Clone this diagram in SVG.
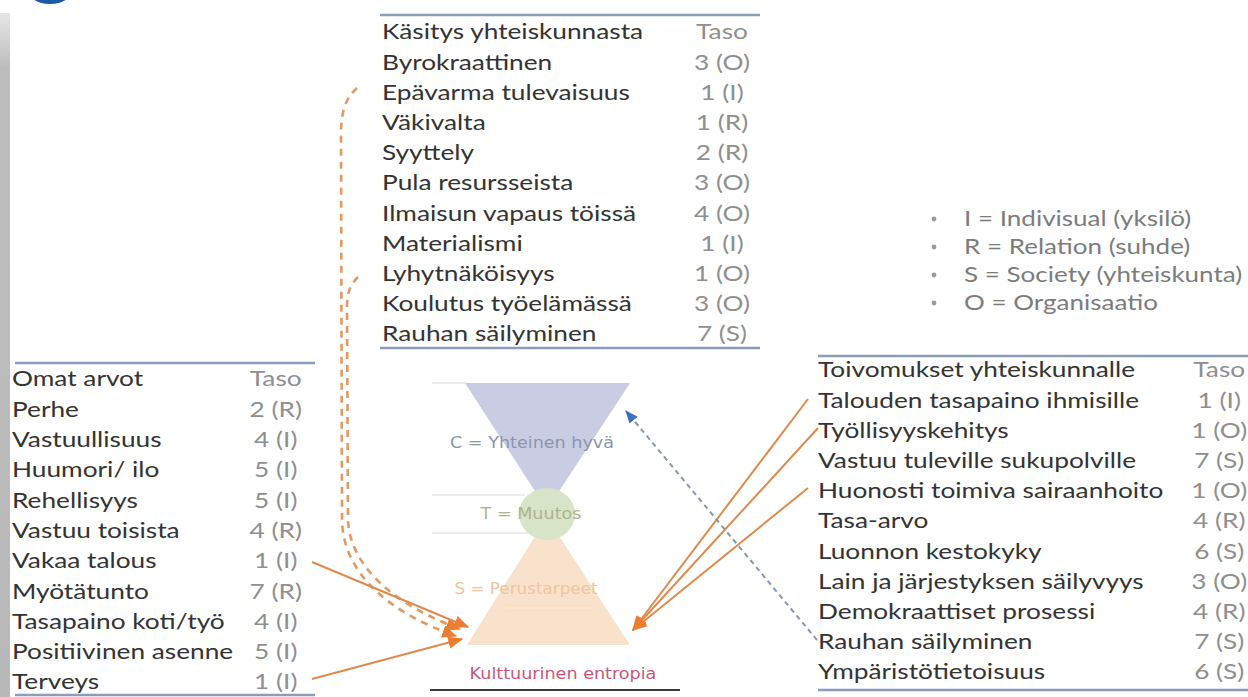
<svg xmlns="http://www.w3.org/2000/svg" width="1248" height="697" viewBox="0 0 1248 697">
  <defs>
    <style>
      .lbl { font-family: Lato, "Open Sans", sans-serif; font-size: 21px; fill: #333333; }
      .val { font-family: Lato, "Open Sans", sans-serif; font-size: 21px; fill: #8f8f8f; text-anchor: middle; }
      .leg { font-family: Lato, "Open Sans", sans-serif; font-size: 21px; fill: #7c7c7c; }
      .rule { stroke: #8a9dbb; stroke-width: 2.5; fill: none; }
      .guide { stroke: #dcdcdc; stroke-width: 1.2; }
      .hg { font-family: "DejaVu Sans", Verdana, sans-serif; font-size: 16px; text-anchor: middle; }
      .solid { stroke: #df8a4c; stroke-width: 2; fill: none; }
      .dash { stroke: #e39a62; stroke-width: 2.6; fill: none; stroke-dasharray: 7 6; }
      .blue { stroke: #8797b3; stroke-width: 2; fill: none; stroke-dasharray: 5 4; }
    </style>
    <linearGradient id="barFade" x1="0" y1="0" x2="0" y2="1">
      <stop offset="0" stop-color="#e6e6e6"/>
      <stop offset="0.08" stop-color="#bdbdbd"/>
      <stop offset="1" stop-color="#b9b9b9"/>
    </linearGradient>
    <marker id="headOrange" viewBox="0 0 12 10" refX="11" refY="5" markerWidth="15" markerHeight="13" markerUnits="userSpaceOnUse" orient="auto">
      <path d="M0,0 L12,5 L0,10 Z" fill="#ed7d31"/>
    </marker>
    <marker id="headBlue" viewBox="0 0 12 10" refX="11" refY="5" markerWidth="13" markerHeight="11" markerUnits="userSpaceOnUse" orient="auto">
      <path d="M0,0 L12,5 L0,10 Z" fill="#3f6fc0"/>
    </marker>
  </defs>

  <rect width="1248" height="697" fill="#ffffff"/>

  <!-- slide frame: side bar and logo corner -->
  <rect x="0" y="13" width="10" height="684" fill="url(#barFade)"/>
  <ellipse cx="50" cy="-14" rx="25" ry="18" fill="#1d5aa6"/>

  <!-- Käsitys yhteiskunnasta -->
  <g id="kasitys">
    <line class="rule" x1="380" y1="15" x2="760" y2="15"/>
    <line class="rule" x1="380" y1="348" x2="760" y2="348"/>
    <g transform="translate(382 0) scale(1.25 1)">
      <text class="lbl" x="0" y="39.5">Käsitys yhteiskunnasta</text>
      <text class="val" x="272" y="39.5">Taso</text>
      <text class="lbl" x="0" y="69.7">Byrokraattinen</text>
      <text class="val" x="272" y="69.7">3 (O)</text>
      <text class="lbl" x="0" y="99.9">Epävarma tulevaisuus</text>
      <text class="val" x="272" y="99.9">1 (I)</text>
      <text class="lbl" x="0" y="130.1">Väkivalta</text>
      <text class="val" x="272" y="130.1">1 (R)</text>
      <text class="lbl" x="0" y="160.3">Syyttely</text>
      <text class="val" x="272" y="160.3">2 (R)</text>
      <text class="lbl" x="0" y="190.5">Pula resursseista</text>
      <text class="val" x="272" y="190.5">3 (O)</text>
      <text class="lbl" x="0" y="220.7">Ilmaisun vapaus töissä</text>
      <text class="val" x="272" y="220.7">4 (O)</text>
      <text class="lbl" x="0" y="250.9">Materialismi</text>
      <text class="val" x="272" y="250.9">1 (I)</text>
      <text class="lbl" x="0" y="281.1">Lyhytnäköisyys</text>
      <text class="val" x="272" y="281.1">1 (O)</text>
      <text class="lbl" x="0" y="311.3">Koulutus työelämässä</text>
      <text class="val" x="272" y="311.3">3 (O)</text>
      <text class="lbl" x="0" y="341.5">Rauhan säilyminen</text>
      <text class="val" x="272" y="341.5">7 (S)</text>
    </g>
  </g>

  <!-- legend of levels -->
  <g id="legend">
    <circle cx="934" cy="219" r="2.4" fill="#9a9a9a"/>
    <circle cx="934" cy="247" r="2.4" fill="#9a9a9a"/>
    <circle cx="934" cy="275" r="2.4" fill="#9a9a9a"/>
    <circle cx="934" cy="303" r="2.4" fill="#9a9a9a"/>
    <g transform="translate(964 0) scale(1.24 1)">
      <text class="leg" x="0" y="226.5">I = Indivisual (yksilö)</text>
      <text class="leg" x="0" y="254.5">R = Relation (suhde)</text>
      <text class="leg" x="0" y="282.5">S = Society (yhteiskunta)</text>
      <text class="leg" x="0" y="310.5">O = Organisaatio</text>
    </g>
  </g>

  <!-- Omat arvot -->
  <g id="omat-arvot">
    <line class="rule" x1="15" y1="363" x2="315" y2="363"/>
    <line class="rule" x1="15" y1="695" x2="315" y2="695"/>
    <g transform="translate(12 0) scale(1.25 1)">
      <text class="lbl" x="0" y="386.5">Omat arvot</text>
      <text class="val" x="211" y="386.5">Taso</text>
      <text class="lbl" x="0" y="416.8">Perhe</text>
      <text class="val" x="211" y="416.8">2 (R)</text>
      <text class="lbl" x="0" y="447.1">Vastuullisuus</text>
      <text class="val" x="211" y="447.1">4 (I)</text>
      <text class="lbl" x="0" y="477.4">Huumori/ ilo</text>
      <text class="val" x="211" y="477.4">5 (I)</text>
      <text class="lbl" x="0" y="507.7">Rehellisyys</text>
      <text class="val" x="211" y="507.7">5 (I)</text>
      <text class="lbl" x="0" y="538">Vastuu toisista</text>
      <text class="val" x="211" y="538">4 (R)</text>
      <text class="lbl" x="0" y="568.3">Vakaa talous</text>
      <text class="val" x="211" y="568.3">1 (I)</text>
      <text class="lbl" x="0" y="598.6">Myötätunto</text>
      <text class="val" x="211" y="598.6">7 (R)</text>
      <text class="lbl" x="0" y="628.9">Tasapaino koti/työ</text>
      <text class="val" x="211" y="628.9">4 (I)</text>
      <text class="lbl" x="0" y="659.2">Positiivinen asenne</text>
      <text class="val" x="211" y="659.2">5 (I)</text>
      <text class="lbl" x="0" y="689.5">Terveys</text>
      <text class="val" x="211" y="689.5">1 (I)</text>
    </g>
  </g>

  <!-- Toivomukset yhteiskunnalle -->
  <g id="toivomukset">
    <line class="rule" x1="818" y1="356" x2="1248" y2="356"/>
    <line class="rule" x1="818" y1="690" x2="1248" y2="690"/>
    <g transform="translate(818 0) scale(1.25 1)">
      <text class="lbl" x="0" y="377.5">Toivomukset yhteiskunnalle</text>
      <text class="val" x="321" y="377.5">Taso</text>
      <text class="lbl" x="0" y="407.7">Talouden tasapaino ihmisille</text>
      <text class="val" x="321" y="407.7">1 (I)</text>
      <text class="lbl" x="0" y="437.9">Työllisyyskehitys</text>
      <text class="val" x="321" y="437.9">1 (O)</text>
      <text class="lbl" x="0" y="468.1">Vastuu tuleville sukupolville</text>
      <text class="val" x="321" y="468.1">7 (S)</text>
      <text class="lbl" x="0" y="498.3">Huonosti toimiva sairaanhoito</text>
      <text class="val" x="321" y="498.3">1 (O)</text>
      <text class="lbl" x="0" y="528.5">Tasa-arvo</text>
      <text class="val" x="321" y="528.5">4 (R)</text>
      <text class="lbl" x="0" y="558.7">Luonnon kestokyky</text>
      <text class="val" x="321" y="558.7">6 (S)</text>
      <text class="lbl" x="0" y="588.9">Lain ja järjestyksen säilyvyys</text>
      <text class="val" x="321" y="588.9">3 (O)</text>
      <text class="lbl" x="0" y="619.1">Demokraattiset prosessi</text>
      <text class="val" x="321" y="619.1">4 (R)</text>
      <text class="lbl" x="0" y="649.3">Rauhan säilyminen</text>
      <text class="val" x="321" y="649.3">7 (S)</text>
      <text class="lbl" x="0" y="679.5">Ympäristötietoisuus</text>
      <text class="val" x="321" y="679.5">6 (S)</text>
    </g>
  </g>

  <!-- hourglass of cultural entropy -->
  <g id="hourglass">
    <line class="guide" x1="432" y1="383" x2="466" y2="383"/>
    <line class="guide" x1="432" y1="495" x2="525" y2="495"/>
    <line class="guide" x1="432" y1="533" x2="528" y2="533"/>
    <polygon points="465,383 630,383 550,505 544,505" fill="#c9cce3"/>
    <polygon points="544,522 550,522 630,645 467,645" fill="#f9e2cb"/>
    <line x1="505" y1="608" x2="595" y2="608" stroke="#fbecdc" stroke-width="1.2"/>
    <ellipse cx="547" cy="514" rx="28" ry="26" fill="#d7e4c8"/>
    <g transform="translate(532 448) scale(1.1 1)">
      <text class="hg" x="0" y="0" fill="#8c95ae">C = Yhteinen hyvä</text>
    </g>
    <g transform="translate(531 519) scale(1.1 1)">
      <text class="hg" x="0" y="0" fill="#acb38d">T = Muutos</text>
    </g>
    <g transform="translate(526 594) scale(1.05 1)">
      <text class="hg" x="0" y="0" fill="#efc49e">S = Perustarpeet</text>
    </g>
    <g transform="translate(563 679) scale(1.1 1)">
      <text class="hg" x="0" y="0" fill="#c7577a">Kulttuurinen entropia</text>
    </g>
    <line x1="430" y1="690" x2="680" y2="690" stroke="#3a3a3a" stroke-width="2.2"/>
  </g>

  <!-- connectors -->
  <g id="connectors">
    <path class="dash" d="M357,88 C346,98 341,110 341,135 L342,520 C343,575 392,614 456,636" marker-end="url(#headOrange)"/>
    <path class="dash" d="M358,277 C350,285 347,293 347,306 L348,520 C350,568 397,606 460,629" marker-end="url(#headOrange)"/>
    <path class="solid" d="M312,562 L468,627" marker-end="url(#headOrange)"/>
    <path class="solid" d="M312,679 L462,639" marker-end="url(#headOrange)"/>
    <path class="solid" d="M808,399 L633,630" marker-end="url(#headOrange)"/>
    <path class="solid" d="M818,428 L633,630" marker-end="url(#headOrange)"/>
    <path class="solid" d="M808,488 L633,630" marker-end="url(#headOrange)"/>
    <path class="blue" d="M817,640 L626,411" marker-end="url(#headBlue)"/>
  </g>
</svg>
